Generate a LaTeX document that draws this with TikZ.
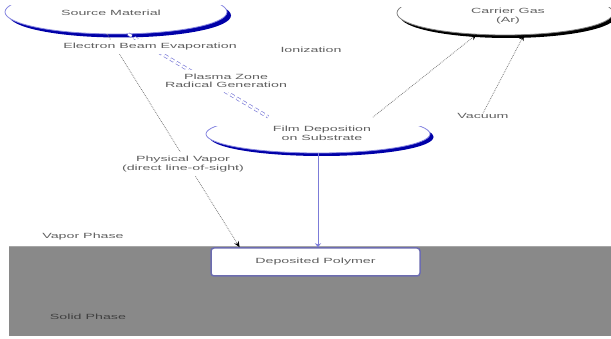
\documentclass[tikz,border=0pt]{standalone}
\usepackage{fontspec}
\newfontfamily\lblfont[FakeStretch=1.9]{Liberation Sans}
\usetikzlibrary{arrows.meta,shapes.geometric}
\definecolor{ebdark}{HTML}{0000A8}
\definecolor{eblight}{HTML}{8484E0}
\definecolor{lavline}{HTML}{7C7CD8}
\definecolor{txtgray}{HTML}{606060}
\definecolor{boxblue}{HTML}{6C6CB0}
\definecolor{solidgray}{HTML}{898989}
\tikzset{
  lbl/.style={font=\lblfont\fontsize{7.5}{8.5}\selectfont, text=txtgray, align=center, inner sep=0pt},
  lblbg/.style={lbl, fill=white, inner sep=4pt},
  ellnode/.style={ellipse, inner sep=0pt, draw=none},
  graydot/.style={draw=gray, line width=0.8pt, densely dotted, -{Stealth[length=6pt,width=5pt,color=black]}},
  dblline/.style={draw=lavline, line width=0.7pt, double=white, double distance=2pt, dash pattern=on 4pt off 3pt},
  bluevert/.style={draw=lavline, line width=1pt, -{Stealth[length=4pt,width=6pt]}},
  boxstyle/.style={lbl, draw=boxblue, line width=1.5pt, fill=white, rounded corners=3pt, minimum width=209pt, minimum height=28pt}
}
\begin{document}
\begin{tikzpicture}[x=1pt,y=-1pt]
\useasboundingbox (0,0) rectangle (611,339);
\clip (0,0) rectangle (611,339);
% ground
\fill[solidgray] (9,246) rectangle (611,336);
\draw[gray!70, line width=1pt] (9,246.5) -- (611,246.5);
% ellipse 1 (Source Material): lower rim only
\begin{scope}
  \clip (0,6) rectangle (240,45);
  \fill[ebdark] (120,15.5) ellipse [x radius=111, y radius=22];
  \fill[white] (116,12) ellipse [x radius=111, y radius=22];
  \draw[eblight, line width=0.8pt] (116,12) ellipse [x radius=111, y radius=22];
\end{scope}
\node[ellnode, minimum width=222pt, minimum height=44pt] (e1) at (116,12) {};
% ellipse 2 (Carrier Gas)
\begin{scope}
  \clip (390,8) rectangle (611,45);
  \fill[black] (508,16) ellipse [x radius=108, y radius=22];
  \fill[white] (505,13) ellipse [x radius=108, y radius=22];
  \draw[gray, line width=0.8pt] (505,13) ellipse [x radius=108, y radius=22];
\end{scope}
\node[ellnode, minimum width=216pt, minimum height=44pt] (e2) at (505,13) {};
% ellipse 3 (Film Deposition)
\begin{scope}
  \clip (200,127) rectangle (440,160);
  \fill[ebdark] (321.5,137) ellipse [x radius=112, y radius=19];
  \fill[white] (318,134) ellipse [x radius=112, y radius=19];
  \draw[eblight, line width=0.8pt] (318,134) ellipse [x radius=112, y radius=19];
\end{scope}
\node[ellnode, minimum width=224pt, minimum height=38pt] (e3) at (318,134) {};
% texts in ellipses
\node[lbl] (t1) at (111,13) {Source Material};
\node[lbl] (t2) at (508,16) {Carrier Gas\\(Ar)};
\node[lbl] (t3) at (322,133.5) {Film Deposition\\on Substrate};
% box
\node[boxstyle] (box) at (315.5,262) {Deposited Polymer};
% plain labels
\node[lbl] (vap) at (83,237) {Vapor Phase};
\node[lbl, text=black!75] (sol) at (88,317) {Solid Phase};
\node[lbl] (ion) at (311,50) {Ionization};
\node[lbl] (vac) at (483,116) {Vacuum};
% connectors
\draw[dblline] (e1.-61) -- (e3.161.6);
\draw[graydot] (e1.-112) -- (box.169.8);
\draw[bluevert] (e3.south) -- (e3.south |- box.north);
\draw[graydot] (e3.17) -- (e2.-143);
\draw[graydot] (vac.north) -- (e2.-49);
% labels on connectors
\node[lblbg] (ebe) at (150,47) {Electron Beam Evaporation};
\node[lblbg] (pz) at (226,81) {Plasma Zone\\Radical Generation};
\node[lblbg] (pvd) at (183,164) {Physical Vapor\\(direct line-of-sight)};
\end{tikzpicture}
\end{document}
